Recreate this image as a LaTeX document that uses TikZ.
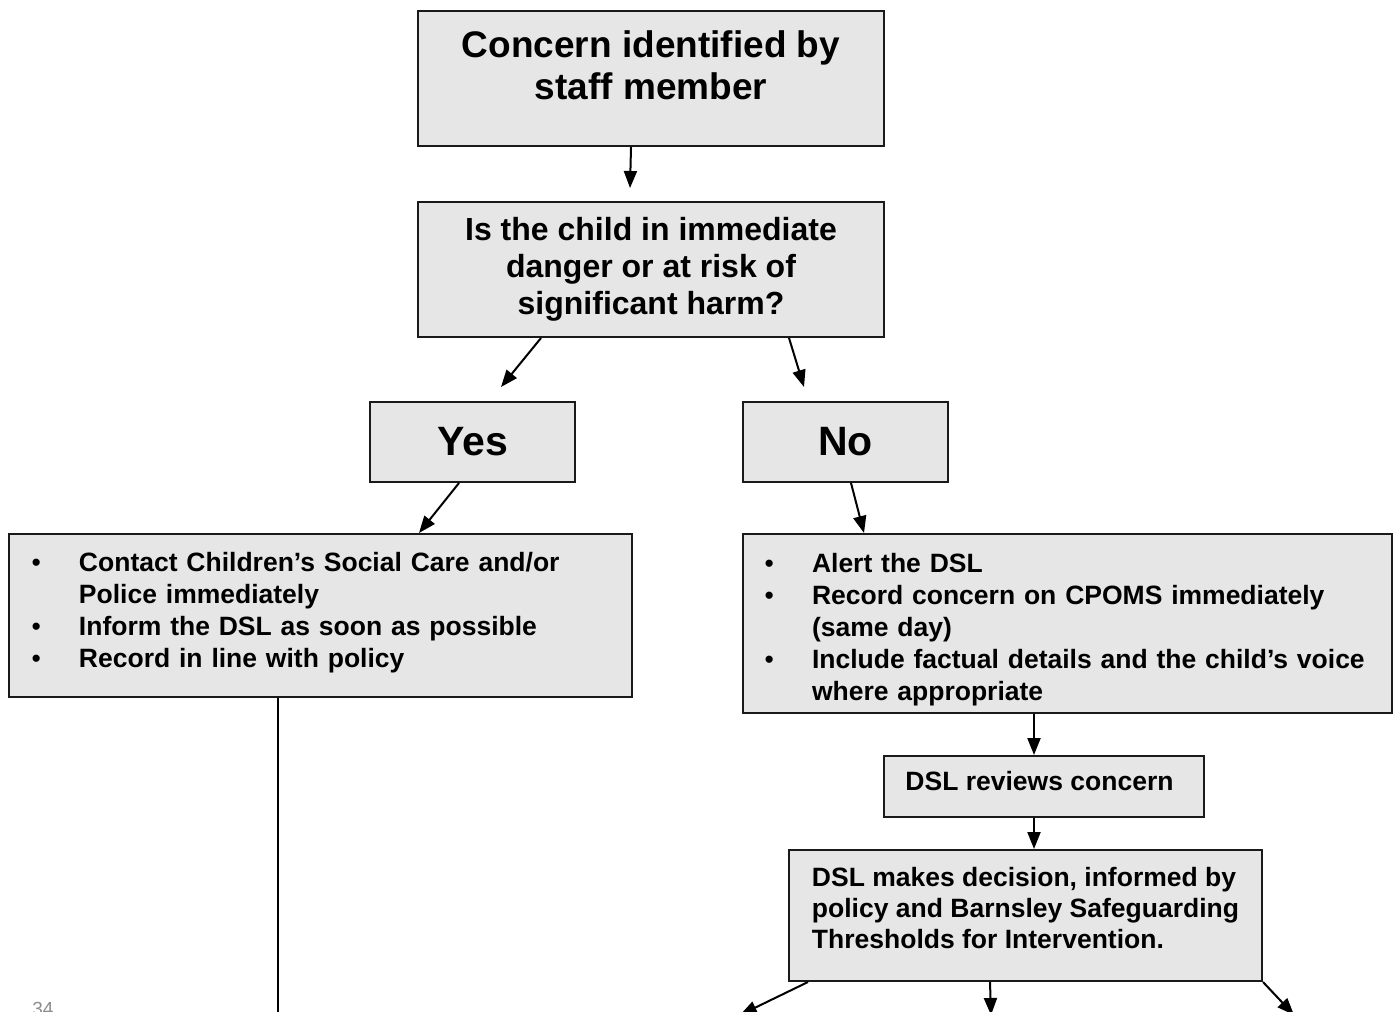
\documentclass[tikz,border=0pt]{standalone}
\usepackage{fontspec}
\setmainfont{Liberation Sans}
\usepackage{enumitem}
\usepackage{xcolor}
\usepackage{tikz}
\usetikzlibrary{calc}
\usetikzlibrary{arrows.meta}

\definecolor{boxgray}{HTML}{E6E6E6}
\definecolor{edgegray}{HTML}{1A1A1A}
\definecolor{pagegray}{HTML}{8C8C8C}

\begin{document}
\begin{tikzpicture}[x=0.5pt, y=-0.5pt, >={Triangle[length=8.5pt, width=6.5pt]},
  flowbox/.style={draw=edgegray, fill=boxgray, line width=1pt, anchor=north west, inner sep=0pt, align=center},
  bigtext/.style={font=\fontsize{18.5}{21}\selectfont\bfseries},
  midtext/.style={font=\fontsize{16}{18.5}\selectfont\bfseries},
  answertext/.style={font=\fontsize{20.5}{24}\selectfont\bfseries},
  smalltext/.style={font=\fontsize{13.25}{16}\selectfont\bfseries}]
\useasboundingbox (0,0) rectangle (1395,1011);

\node (concern) [flowbox, bigtext, minimum width=233pt, minimum height=67.5pt] at (417,10) {Concern identified by\\staff member\\[-7.5pt]\mbox{}};
\node (immediate danger) [flowbox, midtext, minimum width=233pt, minimum height=67.5pt] at (417,201) {Is the child in immediate\\danger or at risk of\\significant harm?};
\node (yes) [flowbox, answertext, minimum width=102.5pt, minimum height=40pt] at (369,401) {Yes};
\node (no) [flowbox, answertext, minimum width=102.5pt, minimum height=40pt] at (742,401) {No};

\node (yes actions) [flowbox, smalltext, text width=311.5pt, minimum height=81.5pt, align=left] at (8,533) {
      \begin{itemize}[nosep, leftmargin=35pt, labelsep=19pt, after=\vspace{9pt}]
        \item Contact Children’s Social Care and/or\\Police immediately
        \item Inform the DSL as soon as possible
        \item Record in line with policy
      \end{itemize}
};
\node (no actions) [flowbox, smalltext, text width=324.5pt, minimum height=89.5pt, align=left] at (742,533) {
      \begin{itemize}[nosep, leftmargin=34.5pt, labelsep=19pt]
        \item Alert the DSL
        \item Record concern on CPOMS immediately\\(same day)
        \item Include factual details and the child’s voice\\where appropriate
      \end{itemize}
};

\node (dsl review) [flowbox, smalltext, minimum width=160pt, text height=17.25pt, text depth=13.25pt] at (883,755) {DSL reviews concern\kern4.5pt};
\node (dsl decision) [flowbox, font=\fontsize{13.25}{15.5}\selectfont\bfseries, minimum width=236.5pt, minimum height=65.5pt, align=left] at (788,849) {DSL makes decision, informed by\\policy and Barnsley Safeguarding\\Thresholds for Intervention.\\[-8pt]\mbox{}};

\coordinate (yes line end) at (278,1020);
\coordinate (outcome left) at (740,1015);
\coordinate (outcome middle) at (991,1015);
\coordinate (outcome right) at (1294,1015);

\draw [line width=1pt, ->] ([xshift=-10pt]concern.south) -- ([xshift=-10.5pt, yshift=6.5pt]immediate danger.north);
\draw [line width=1pt, ->] ([xshift=-55pt]immediate danger.south) -- ([xshift=14.25pt, yshift=7pt]yes.north);
\draw [line width=1pt, ->] ([xshift=69pt]immediate danger.south) -- ([xshift=-20.75pt, yshift=7pt]no.north);
\draw [line width=1pt, ->] ([xshift=-6.75pt]yes.south) -- ([xshift=49.25pt]yes actions.north);
\draw [line width=1pt, ->] ([xshift=2.75pt]no.south) -- ([xshift=-101.75pt]no actions.north);
\draw [line width=1pt] (yes actions.south -| yes line end) -- (yes line end);
\draw [line width=1pt, ->] ([xshift=-16.75pt]no actions.south) -- ([xshift=-16.75pt]no actions.south |- dsl review.north);
\draw [line width=1pt, ->] ([xshift=-5pt]dsl review.south) -- ([xshift=-5pt]dsl review.south |- dsl decision.north);
\draw [line width=1pt, ->] ([xshift=10pt]dsl decision.south west) -- (outcome left);
\draw [line width=1pt, ->] ([xshift=-17.75pt]dsl decision.south) -- (outcome middle);
\draw [line width=1pt, ->] (dsl decision.south east) -- (outcome right);

\node (page number) [text=pagegray, font=\fontsize{9.5}{11}\selectfont, anchor=north west, inner sep=0pt] at (32,1002) {34};

\end{tikzpicture}
\end{document}
